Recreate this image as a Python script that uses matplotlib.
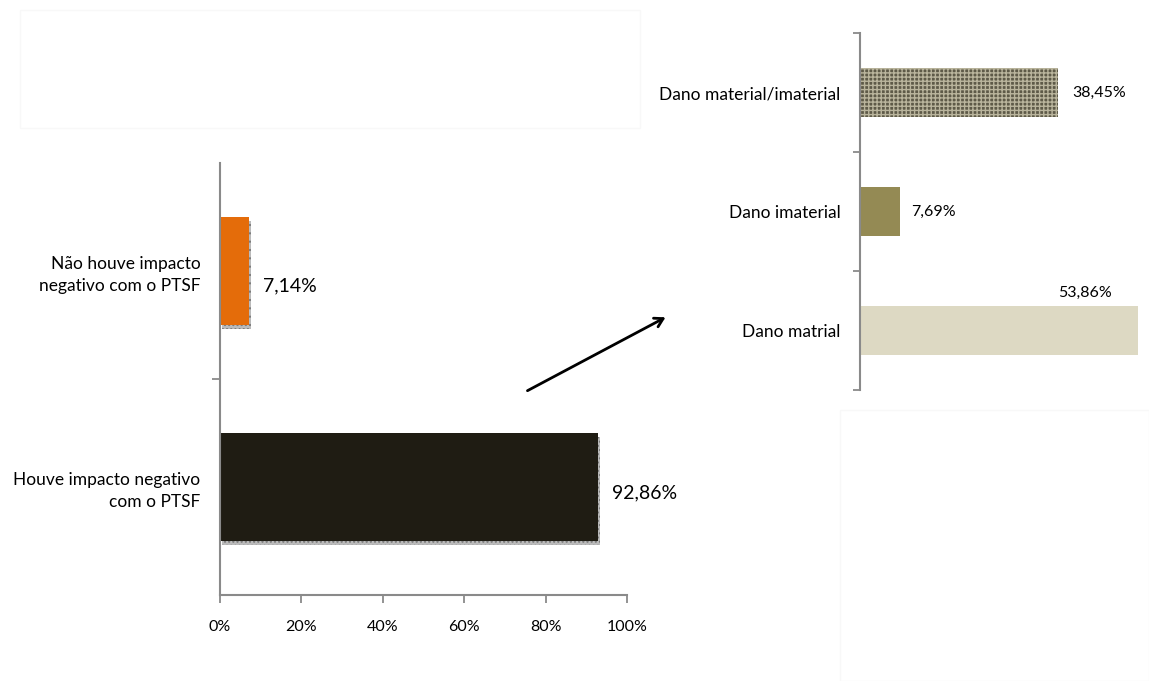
import matplotlib
matplotlib.use("Agg")
import matplotlib.pyplot as plt
from matplotlib.patches import Rectangle, FancyArrowPatch

plt.rcParams['font.family'] = ['Lato', 'DejaVu Sans']

# Left chart data
left_cats = ["Houve impacto negativo\ncom o PTSF", "Não houve impacto\nnegativo com o PTSF"]
left_vals = [92.86, 7.14]
left_labels = ["92,86%", "7,14%"]
left_colors = ["#1f1c13", "#e46c0a"]
left_xticks = [0, 20, 40, 60, 80, 100]
left_xticklabels = ["0%", "20%", "40%", "60%", "80%", "100%"]

# Right chart data
right_cats = ["Dano matrial", "Dano imaterial", "Dano material/imaterial"]
right_vals = [53.86, 7.69, 38.45]
right_labels = ["53,86%", "7,69%", "38,45%"]
right_colors = ["#ddd9c3", "#948a54", "#5e5a48"]

W, H = 1149, 681
fig = plt.figure(figsize=(W / 100, H / 100), dpi=100)
fig.patch.set_facecolor("white")

def fx(px):
    return px / W

def fy(py):
    return 1 - py / H

spine_col = "#8a8a8a"

# very faint background frames
faint = "#f8f8f8"
fig.add_artist(Rectangle((fx(20), fy(128)), fx(640) - fx(20), fy(10) - fy(128),
                         transform=fig.transFigure, fill=False, edgecolor=faint, lw=1))
fig.add_artist(Rectangle((fx(840), fy(681)), fx(1149) - fx(840), fy(410) - fy(681),
                         transform=fig.transFigure, fill=False, edgecolor=faint, lw=1))

# ---------- Left chart ----------
axL = fig.add_axes([fx(220), fy(595), fx(627) - fx(220), fy(163) - fy(595)])
yL = list(range(len(left_cats)))
# dotted shadow
axL.barh([y - 0.02 for y in yL], left_vals, height=0.5, color="#bbbbbb", hatch="....",
         edgecolor="#777777", linewidth=0, zorder=1, left=0.4)
axL.barh(yL, left_vals, height=0.5, color=left_colors, zorder=2, linewidth=0)
axL.set_xlim(0, 100)
axL.set_ylim(-0.5, 1.5)
axL.set_xticks(left_xticks)
axL.set_xticklabels(left_xticklabels, fontsize=11.5)
axL.set_yticks(yL)
axL.set_yticklabels(left_cats, fontsize=12.5, ha="right", linespacing=1.4)
axL.set_yticks([0.5], minor=True)
axL.tick_params(axis="y", which="major", length=0, pad=14)
axL.tick_params(axis="y", which="minor", length=6, color=spine_col, width=1.3, direction="out")
axL.tick_params(axis="x", length=6, color=spine_col, width=1.3, pad=12)
for s in ["top", "right"]:
    axL.spines[s].set_visible(False)
for s in ["left", "bottom"]:
    axL.spines[s].set_color(spine_col)
    axL.spines[s].set_linewidth(1.5)
axL.text(left_vals[0] + 3.5, -0.025, left_labels[0], va="center", ha="left", fontsize=14)
axL.text(left_vals[1] + 3.5, 1 - 0.07, left_labels[1], va="center", ha="left", fontsize=14)

# ---------- Right chart ----------
axR = fig.add_axes([fx(860), fy(390), fx(1149) - fx(860), fy(33) - fy(390)])
yR = list(range(len(right_cats)))
bars = axR.barh(yR, right_vals, height=0.41, color=right_colors, linewidth=0, zorder=2)
bars[2].set_hatch("++++")
bars[2].set_edgecolor("#b9b49c")
axR.set_xlim(0, 56)
axR.set_ylim(-0.5, 2.5)
axR.set_xticks([])
axR.set_yticks(yR)
axR.set_yticklabels(right_cats, fontsize=12.5)
axR.set_yticks([-0.5, 0.5, 1.5, 2.5], minor=True)
axR.tick_params(axis="y", which="major", length=0, pad=14)
axR.tick_params(axis="y", which="minor", length=5, color=spine_col, width=1.3, direction="out")
for s in ["top", "right", "bottom"]:
    axR.spines[s].set_visible(False)
axR.spines["left"].set_color(spine_col)
axR.spines["left"].set_linewidth(1.5)
axR.text(right_vals[2] + 2.7, 2, right_labels[2], va="center", ha="left", fontsize=11.5)
axR.text(right_vals[1] + 2.3, 1, right_labels[1], va="center", ha="left", fontsize=11.5)
axR.text(right_vals[0] - 15.5, 0.32, right_labels[0], va="center", ha="left", fontsize=11.5)

# ---------- Arrow ----------
fig.add_artist(FancyArrowPatch(
    (fx(525), fy(392)), (fx(668), fy(316)), transform=fig.transFigure,
    arrowstyle="->,head_length=6,head_width=3.5", color="black", lw=2))

fig.savefig("out.png", dpi=100, facecolor="white")
